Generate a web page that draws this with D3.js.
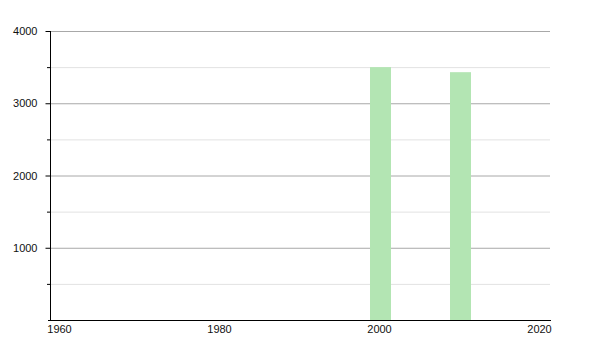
<!DOCTYPE html>
<html><head><meta charset="utf-8">
<script src="https://cdn.jsdelivr.net/npm/d3@7"></script>
<style>body{margin:0;background:#fff;} .tick text{font-family:"Liberation Sans",Arial,sans-serif;font-size:11px;fill:#111 !important;}</style>
</head><body><svg id="c" width="600" height="350"></svg>
<script>
const years = [2000, 2010];
const values = [3500, 3430];
const xTicks = [1960, 1980, 2000, 2020];
const yMajor = [1000, 2000, 3000, 4000];
const yMinor = [500, 1500, 2500, 3500];

const svg = d3.select("#c");
const L = 50, R = 550, T = 31, B = 320;
const x = d3.scaleLinear().domain([1960, 2020]).range([59, 539]);
const y = d3.scaleLinear().domain([0, 4000]).range([B, T]);
const barW = 21;

svg.append("g").selectAll("line").data(yMinor).join("line")
  .attr("x1", L).attr("x2", R).attr("y1", d => y(d) + 0.5).attr("y2", d => y(d) + 0.5)
  .attr("stroke", "#e2e2e2").attr("stroke-width", 1);
svg.append("g").selectAll("line").data(yMajor).join("line")
  .attr("x1", L).attr("x2", R).attr("y1", d => y(d) + 0.5).attr("y2", d => y(d) + 0.5)
  .attr("stroke", "#a8a8a8").attr("stroke-width", 1);

svg.append("g").selectAll("rect").data(years).join("rect")
  .attr("x", d => x(d) - barW / 2 + 1.5).attr("width", barW)
  .attr("y", (d, i) => y(values[i])).attr("height", (d, i) => B - y(values[i]))
  .attr("fill", "#b3e5b3");

const ya = d3.axisLeft(y).tickValues(yMajor).tickSize(5).tickPadding(8).tickFormat(d3.format("d"));
const yg = svg.append("g").attr("transform", `translate(${L + 0.5},0)`).call(ya);
yg.select(".domain").attr("d", `M0,${T}V${B + 1}`).attr("stroke", "#000");
yg.selectAll(".tick line").attr("stroke", "#000");
svg.append("g").selectAll("line").data(yMinor).join("line")
  .attr("x1", L - 3).attr("x2", L).attr("y1", d => y(d) + 0.5).attr("y2", d => y(d) + 0.5)
  .attr("stroke", "#000");

const xa = d3.axisBottom(x).tickValues(xTicks).tickSize(0).tickPadding(5).tickFormat(d3.format("d"));
const xg = svg.append("g").attr("transform", `translate(0,${B + 0.5})`).call(xa);
xg.select(".domain").attr("d", `M${L - 2},0H${R + 1}`).attr("stroke", "#000");
</script></body></html>
